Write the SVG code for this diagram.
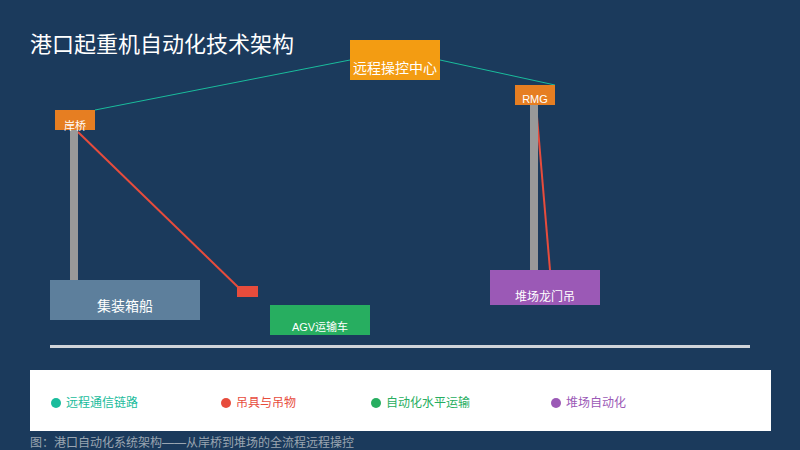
<svg xmlns="http://www.w3.org/2000/svg" width="800" height="450" viewBox="0 0 800 450">
<style>
text{font-family:"Liberation Sans","Noto Sans CJK SC",sans-serif;}
.w{fill:#ffffff;}
.link{stroke:#1abc9c;stroke-width:1;fill:none;}
.cable{stroke:#e74c3c;stroke-width:2;fill:none;}
.pole{fill:#999999;}
.lg{font-size:12px;}
</style>
<rect x="0" y="0" width="800" height="450" fill="#1b3a5c"/>
<text x="30" y="52" class="w" font-size="22">港口起重机自动化技术架构</text>
<g id="connectors">
<line class="link" x1="350" y1="60" x2="95" y2="110"/>
<line class="link" x1="440" y1="60" x2="555" y2="85"/>
<line class="cable" x1="78" y1="132" x2="240" y2="289"/>
<line class="cable" x1="536" y1="105" x2="550" y2="270"/>
</g>
<g id="center">
<rect x="350" y="40" width="90" height="40" fill="#f39c12"/>
<text x="395" y="73" class="w" font-size="14" text-anchor="middle">远程操控中心</text>
</g>
<g id="quay-crane">
<rect x="70" y="130" width="8" height="150" class="pole"/>
<rect x="55" y="110" width="40" height="20" fill="#e67e22"/>
<text x="75" y="130" class="w" font-size="11" text-anchor="middle">岸桥</text>
</g>
<g id="spreader">
<rect x="237" y="286" width="21" height="11" fill="#e74c3c"/>
</g>
<g id="ship">
<rect x="50" y="280" width="150" height="40" fill="#5d7f9c"/>
<text x="125" y="311" class="w" font-size="14" text-anchor="middle">集装箱船</text>
</g>
<g id="agv">
<rect x="270" y="305" width="100" height="30" fill="#27ae60"/>
<text x="320" y="331" class="w" font-size="11" text-anchor="middle">AGV运输车</text>
</g>
<g id="ground">
<rect x="50" y="345" width="700" height="3" fill="#d0d4da"/>
</g>
<g id="rmg">
<rect x="530" y="105" width="8" height="165" class="pole"/>
<rect x="515" y="85" width="40" height="20" fill="#e67e22"/>
<text x="535" y="103" class="w" font-size="11" text-anchor="middle">RMG</text>
</g>
<g id="yard-crane">
<rect x="490" y="270" width="110" height="35" fill="#9b59b6"/>
<text x="545" y="301" class="w" font-size="12" text-anchor="middle">堆场龙门吊</text>
</g>
<g id="legend">
<rect x="30" y="370" width="741" height="61" fill="#ffffff"/>
<circle cx="56" cy="403" r="5" fill="#1abc9c"/>
<text x="66" y="407" class="lg" fill="#1abc9c">远程通信链路</text>
<circle cx="226" cy="403" r="5" fill="#e74c3c"/>
<text x="236" y="407" class="lg" fill="#e74c3c">吊具与吊物</text>
<circle cx="376" cy="403" r="5" fill="#27ae60"/>
<text x="386" y="407" class="lg" fill="#27ae60">自动化水平运输</text>
<circle cx="556" cy="403" r="5" fill="#9b59b6"/>
<text x="566" y="407" class="lg" fill="#9b59b6">堆场自动化</text>
</g>
<text x="30" y="447" font-size="12" fill="#9aa5b1">图：港口自动化系统架构——从岸桥到堆场的全流程远程操控</text>
</svg>
